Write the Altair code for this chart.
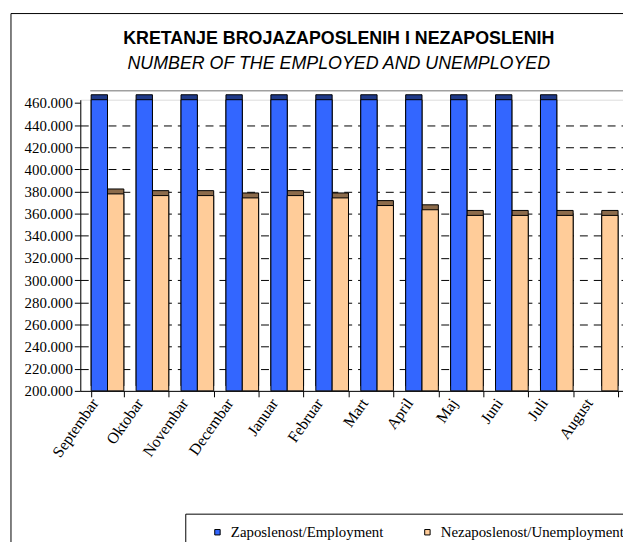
import altair as alt
import pandas as pd

months = ["Septembar", "Oktobar", "Novembar", "Decembar", "Januar", "Februar",
          "Mart", "April", "Maj", "Juni", "Juli", "August"]
series = ["Zaposlenost/Employment", "Nezaposlenost/Unemployment"]
employed = [463000, 463000, 463000, 463000, 463000, 463000,
            463000, 463000, 463000, 463000, 463000, None]
unemployed = [377900, 376400, 376400, 374300, 376400, 374300,
              367400, 363600, 358500, 358500, 358500, 358500]
y_ticks = [200000, 220000, 240000, 260000, 280000, 300000, 320000,
           340000, 360000, 380000, 400000, 420000, 440000, 460000]
y_base = 200000

front_colors = ["#3366FF", "#FFCC99"]
side_colors = ["#1F3A8A", "#8C6B4B"]

rows = []
for m, e, u in zip(months, employed, unemployed):
    if e is not None:
        rows.append({"Mjesec": m, "Serija": series[0], "Vrijednost": e})
    if u is not None:
        rows.append({"Mjesec": m, "Serija": series[1], "Vrijednost": u})
df = pd.DataFrame(rows)

x_enc = alt.X("Mjesec:N", sort=months,
              scale=alt.Scale(paddingInner=0.273, paddingOuter=0.242, range=[0, 554]),
              axis=alt.Axis(title=None, labelAngle=-55, labelAlign="right",
                            labelBaseline="middle", labelFont="Liberation Serif",
                            labelFontSize=16, labelColor="black", labelPadding=3,
                            labelOffset=-13,
                            tickBand="extent", tickColor="black", tickSize=6,
                            domainColor="black", grid=False))
xo_enc = alt.XOffset("Serija:N", sort=series,
                     scale=alt.Scale(paddingInner=0, paddingOuter=0))
y_enc = alt.Y("Vrijednost:Q",
              scale=alt.Scale(domain=[200000, 463000], zero=False, nice=False),
              axis=alt.Axis(title=None, values=y_ticks,
                            labelExpr="replace(format(datum.value, ','), ',', '.')",
                            labelFont="Liberation Serif", labelFontSize=15,
                            labelColor="black", labelPadding=2,
                            tickColor="black", tickSize=6, domainColor="black",
                            grid=True, gridColor="black", gridDash=[8, 6],
                            gridOpacity={"condition": {"test": "datum.value >= 460000 || datum.value <= 200000", "value": 0}, "value": 1}))

base = alt.Chart(df).encode(x=x_enc, xOffset=xo_enc, y=y_enc, y2=alt.datum(y_base))

side = base.mark_bar(xOffset=5, yOffset=-5, y2Offset=-5, stroke="black",
                     strokeWidth=1).encode(
    color=alt.Color("Serija:N", sort=series,
                    scale=alt.Scale(domain=series, range=side_colors), legend=None)
)
front = base.mark_bar(stroke="black", strokeWidth=1).encode(
    color=alt.Color("Serija:N", sort=series,
                    scale=alt.Scale(domain=series, range=front_colors),
                    legend=alt.Legend(title=None, orient="none", legendX=106,
                                      legendY=418, direction="horizontal",
                                      columns=2, symbolType="square",
                                      symbolSize=30, symbolStrokeColor="black",
                                      symbolStrokeWidth=1, symbolOffset=14,
                                      labelFont="Liberation Serif",
                                      labelFontSize=15, labelColor="black",
                                      labelOffset=6, columnPadding=22,
                                      labelLimit=400,
                                      padding=11, strokeColor="black",
                                      fillColor="white"))
)

deco = pd.DataFrame({"k": [0]})
frame_left = alt.Chart(deco).mark_rule(color="black", strokeWidth=1).encode(
    x=alt.value(-70), y=alt.value(-87), y2=alt.value(460)
)
frame_top = alt.Chart(deco).mark_rule(color="black", strokeWidth=1).encode(
    x=alt.value(-70), x2=alt.value(560), y=alt.value(-87)
)
wall_top = alt.Chart(deco).mark_rule(color="#A0A0A0", strokeWidth=1.5).encode(
    x=alt.value(10), x2=alt.value(560), y=alt.value(-9)
)

chart = alt.layer(wall_top, side, front, frame_left, frame_top).resolve_scale(
    color="independent").properties(
    width=548, height=294,
    autosize=alt.AutoSizeParams(type="none"),
    padding={"left": 73, "top": 90, "right": 0, "bottom": 150},
    title=alt.TitleParams(
        text="KRETANJE BROJAZAPOSLENIH I NEZAPOSLENIH",
        subtitle="NUMBER OF THE EMPLOYED AND UNEMPLOYED",
        font="Liberation Sans", fontSize=18, fontWeight="bold", color="black",
        subtitleFont="Liberation Sans", subtitleFontSize=18,
        subtitleFontStyle="italic", subtitleColor="black",
        anchor="middle", frame="group", offset=-60, dx=-13,
        subtitlePadding=7),
).configure_view(stroke=None).configure(background="white")

chart.save("out.html", embed_options={"renderer": "svg", "actions": False})
